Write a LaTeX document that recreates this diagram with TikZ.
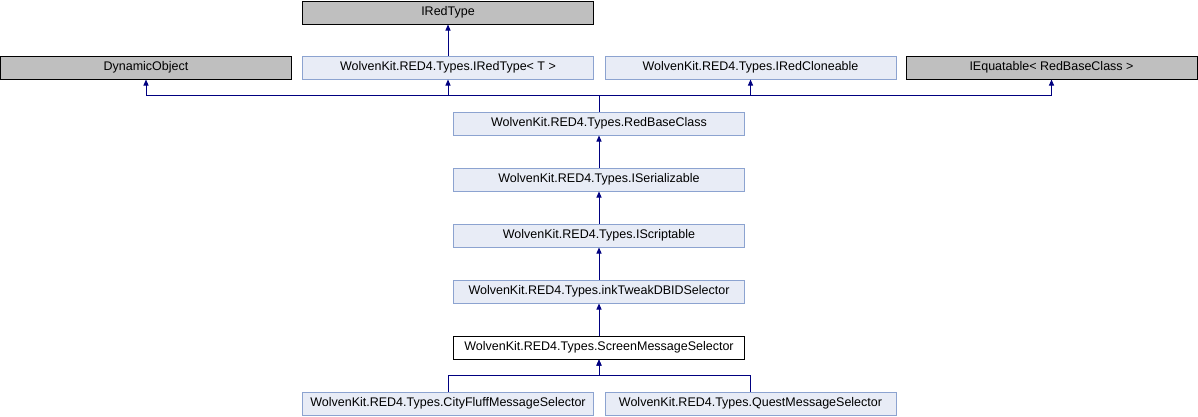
\documentclass[tikz,border=0pt]{standalone}
\usepackage{fontspec}
\setmainfont{Liberation Sans}
\usetikzlibrary{arrows.meta}
\definecolor{docfill}{HTML}{E8ECF6}
\definecolor{docline}{HTML}{8CA3D0}
\definecolor{docgray}{HTML}{BFBFBF}
\definecolor{docarrow}{HTML}{000080}

\begin{document}
\begin{tikzpicture}[x=1pt,y=-1pt,
  cls/.style={draw=docline,fill=docfill,line width=1pt,minimum width=291pt,minimum height=23pt,inner sep=0pt,font=\fontsize{12.5}{14}\selectfont},
  ext/.style={cls,draw=black,fill=docgray},
  cur/.style={cls,draw=black,fill=white},
  inh/.style={draw=docarrow,line width=1pt,-{Triangle[length=6pt,width=5pt]}}]
\useasboundingbox (0,0) rectangle (1198,416);

% Top ancestor
\node[ext] (iredtype) at (448,12.5) {IRedType};

% Direct parents of RedBaseClass
\node[ext] (dynobj) at (146,67.5) {DynamicObject};
\node[cls] (iredtypet) at (448,67.5) {WolvenKit.RED4.Types.IRedType< T >};
\node[cls] (cloneable) at (750.5,67.5) {WolvenKit.RED4.Types.IRedCloneable};
\node[ext] (equatable) at (1051.5,67.5) {IEquatable< RedBaseClass >};

% Main chain
\node[cls] (redbase) at (599,123.5) {WolvenKit.RED4.Types.RedBaseClass};
\node[cls] (iserial) at (599,179.5) {WolvenKit.RED4.Types.ISerializable};
\node[cls] (iscript) at (599,235.5) {WolvenKit.RED4.Types.IScriptable};
\node[cls] (tweaksel) at (599,291.5) {WolvenKit.RED4.Types.inkTweakDBIDSelector};
\node[cur] (screensel) at (599,347.5) {WolvenKit.RED4.Types.ScreenMessageSelector};

% Derived classes
\node[cls] (cityfluff) at (448,403.5) {WolvenKit.RED4.Types.CityFluffMessageSelector};
\node[cls] (questsel) at (750.5,403.5) {WolvenKit.RED4.Types.QuestMessageSelector};

% Inheritance
\draw[inh] (iredtypet) -- (iredtype);
\draw[inh] (redbase.north) -- ++(0,-16) -| (dynobj.south);
\draw[inh] (redbase.north) -- ++(0,-16) -| (iredtypet.south);
\draw[inh] (redbase.north) -- ++(0,-16) -| (cloneable.south);
\draw[inh] (redbase.north) -- ++(0,-16) -| (equatable.south);
\draw[inh] (iserial) -- (redbase);
\draw[inh] (iscript) -- (iserial);
\draw[inh] (tweaksel) -- (iscript);
\draw[inh] (screensel) -- (tweaksel);
\draw[inh] (cityfluff.north) -- ++(0,-16) -| (screensel.south);
\draw[inh] (questsel.north) -- ++(0,-16) -| (screensel.south);
\end{tikzpicture}
\end{document}
